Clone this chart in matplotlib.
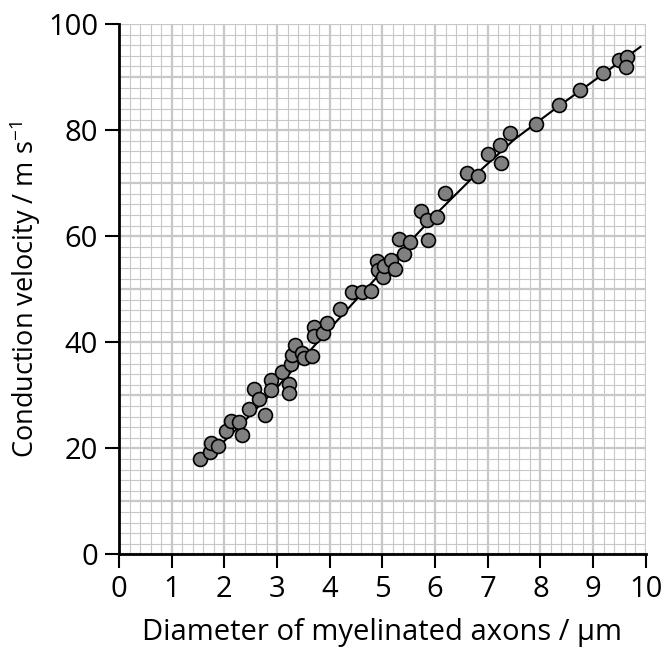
import matplotlib
matplotlib.use('Agg')
import matplotlib.pyplot as plt
import numpy as np

plt.rcParams['font.family'] = ['Open Sans', 'DejaVu Sans']
plt.rcParams['mathtext.default'] = 'regular'

# measured points (diameter um, velocity m/s)
diameter = [1.54, 1.72, 1.74, 1.88, 2.04, 2.12, 2.28, 2.33, 2.46, 2.56,
            2.65, 2.78, 2.89, 2.89, 3.09, 3.23, 3.23, 3.26, 3.28, 3.35,
            3.47, 3.51, 3.66, 3.70, 3.71, 3.88, 3.94, 4.19, 4.43, 4.62,
            4.79, 4.89, 4.92, 5.02, 5.04, 5.16, 5.24, 5.32, 5.42, 5.52,
            5.73, 5.84, 5.87, 6.03, 6.19, 6.60, 6.81, 7.00, 7.25, 7.23,
            7.43, 7.91, 8.36, 8.76, 9.18, 9.49, 9.65, 9.63]
velocity = [18.0, 19.4, 21.0, 20.5, 23.3, 25.2, 25.0, 22.6, 27.5, 31.2,
            29.4, 26.3, 32.9, 31.0, 34.4, 32.1, 30.4, 35.9, 37.6, 39.5,
            37.9, 37.0, 37.4, 42.9, 41.2, 41.7, 43.6, 46.2, 49.5, 49.4,
            49.7, 55.4, 53.6, 52.3, 54.4, 55.5, 53.8, 59.5, 56.6, 58.9,
            64.8, 63.1, 59.3, 63.7, 68.2, 72.0, 71.4, 75.5, 73.8, 77.2,
            79.4, 81.2, 84.8, 87.5, 90.8, 93.3, 93.7, 91.9]

# best-fit curve as drawn
fit_x = [1.6, 2.3, 3.0, 3.75, 4.5, 5.25, 6.0, 6.75, 7.5, 8.25, 9.0, 9.9]
fit_y = [17.5, 24.3, 31.5, 39.8, 48.0, 56.1, 64.0, 71.4, 78.2, 83.8, 89.2, 95.7]

fig = plt.figure(figsize=(6.65, 6.5), dpi=100)
ax = fig.add_axes([0.179, 0.147, 0.792, 0.816])

# graph-paper grid
grid_col = '#c8c8c8'
for v in np.arange(0, 10.01, 0.2):
    major = abs(v - round(v)) < 1e-6
    ax.axvline(v, color=grid_col, lw=1.6 if major else 0.8, zorder=0)
for v in np.arange(0, 100.01, 2):
    major = abs(v / 10 - round(v / 10)) < 1e-6
    ax.axhline(v, color=grid_col, lw=1.6 if major else 0.8, zorder=0)

ax.plot(fit_x, fit_y, color='black', lw=1.5, zorder=2)
ax.plot(diameter, velocity, 'o', ms=10, mfc='#808080', mec='black',
        mew=1.2, zorder=3)

ax.set_xlim(0, 10)
ax.set_ylim(0, 100)
ax.set_xticks(range(0, 11))
ax.set_yticks(range(0, 101, 20))
ax.tick_params(which='major', length=10, width=1.5, labelsize=21, pad=5)

for s in ['top', 'right']:
    ax.spines[s].set_visible(False)
for s in ['left', 'bottom']:
    ax.spines[s].set_linewidth(2)
    ax.spines[s].set_zorder(4)

ax.set_xlabel('Diameter of myelinated axons / μm', fontsize=21, labelpad=10)
ax.set_ylabel('Conduction velocity / m s$^{-1}$', fontsize=19.5, labelpad=4)

fig.savefig('out.png', dpi=100)
